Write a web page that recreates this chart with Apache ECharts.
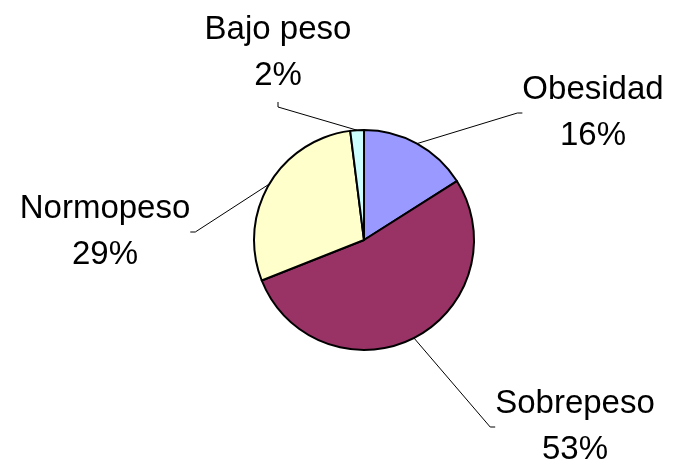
<!DOCTYPE html>
<html>
<head>
<meta charset="utf-8">
<script src="https://cdn.jsdelivr.net/npm/echarts@6/dist/echarts.min.js"></script>
<style>
  html, body { margin: 0; padding: 0; background: #fff; }
  #chart { width: 674px; height: 464px; }
</style>
</head>
<body>
<div id="chart"></div>
<script>
// datos, en orden horario desde las 12
var categorias = ['Obesidad', 'Sobrepeso', 'Normopeso', 'Bajo peso']
var valores = [16, 53, 29, 2]
var colores = ['#9999FF', '#993366', '#FFFFCC', '#CCFFFF']

// donde va cada etiqueta (centro de la caja)
var posEtiquetas = [
  [593, 113],
  [575, 427],
  [105, 232],
  [278, 53]
]

var chart = echarts.init(document.getElementById('chart'))
chart.setOption({
  animation: false,
  series: [
    {
      type: 'pie',
      center: [364, 240],
      radius: 110,
      startAngle: 90,
      clockwise: true,
      avoidLabelOverlap: false,
      itemStyle: {
        borderColor: '#000',
        borderWidth: 2
      },
      label: {
        show: true,
        position: 'outside',
        formatter: '{b}\n{d}%',
        fontFamily: 'Liberation Sans',
        fontSize: 33,
        lineHeight: 46,
        color: '#000',
        align: 'center'
      },
      labelLine: {
        show: true,
        length2: 5,
        minTurnAngle: 0,
        lineStyle: {
          color: '#000',
          width: 1
        }
      },
      labelLayout: function (params) {
        var p = posEtiquetas[params.dataIndex]
        return {
          x: p[0],
          y: p[1],
          align: 'center',
          verticalAlign: 'middle'
        }
      },
      data: categorias.map(function (c, i) {
        var d = { name: c, value: valores[i], itemStyle: { color: colores[i] } }
        // la linea de "Bajo peso" sale por abajo de la etiqueta
        if (c === 'Bajo peso') {
          d.label = { padding: [0, 50, 6, 50] }
        }
        return d
      })
    }
  ]
})
</script>
</body>
</html>
